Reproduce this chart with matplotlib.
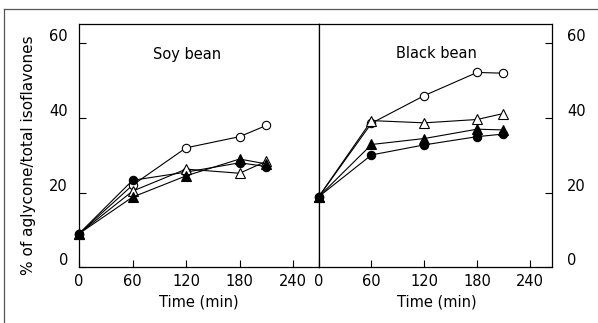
import matplotlib
matplotlib.use("Agg")
import matplotlib.pyplot as plt
import matplotlib.transforms as mtransforms
from matplotlib.lines import Line2D

time = [0, 60, 120, 180, 210]

soy_open_circle = [9.0, 22.0, 32.0, 35.0, 38.0]
soy_filled_circle = [9.0, 23.3, 25.5, 28.0, 27.0]
soy_open_triangle = [9.0, 20.4, 26.3, 25.2, 28.4]
soy_filled_triangle = [9.0, 18.8, 24.5, 29.0, 27.7]

black_open_circle = [18.9, 38.6, 46.0, 52.2, 52.0]
black_filled_circle = [18.9, 30.1, 32.8, 35.0, 35.7]
black_open_triangle = [18.9, 39.3, 38.7, 39.6, 41.2]
black_filled_triangle = [18.9, 32.9, 34.5, 37.0, 36.8]

xticks = [0, 60, 120, 180, 240]
yticks = [0, 20, 40, 60]
panel_titles = ["Soy bean", "Black bean"]
xlabel = "Time (min)"
ylabel = "% of aglycone/total isoflavones"

W, H = 598, 323
plt.rcParams['font.family'] = ['DejaVu Sans']
fig = plt.figure(figsize=(W / 100, H / 100), dpi=100)

def fx(px):
    return px / W

def fy(py):
    return 1 - py / H

bottom = fy(267.3)
top = fy(24.3)
axL = fig.add_axes([fx(79), bottom, fx(318.5) - fx(79), top - bottom])
axR = fig.add_axes([fx(318.7), bottom, fx(551.7) - fx(318.7), top - bottom])

axL.set_xlim(0, 268.5)
axR.set_xlim(0, 264.8)
for ax in (axL, axR):
    ax.set_ylim(0, 65.1)
    ax.set_xticks(xticks)
    ax.set_yticks(yticks)
    for s in ax.spines.values():
        s.set_linewidth(0.9)
        s.set_color('black')

series_style = [
    ('o', 'white'),
    ('o', 'black'),
    ('^', 'white'),
    ('^', 'black'),
]

soy = [soy_open_circle, soy_filled_circle, soy_open_triangle, soy_filled_triangle]
black = [black_open_circle, black_filled_circle, black_open_triangle, black_filled_triangle]

for ax, data in ((axL, soy), (axR, black)):
    for vals, (mk, fc) in zip(data, series_style):
        ax.plot(time, vals, color='black', lw=0.8, marker=mk, markersize=6.5 if mk == '^' else 6,
                markerfacecolor=fc, markeredgecolor='black', markeredgewidth=0.8, clip_on=False, zorder=3)

axL.tick_params(axis='both', direction='in', length=5, width=0.8, labelsize=10.5,
                top=False, right=False, left=True, bottom=True)
axL.tick_params(axis='x', pad=5)
axL.tick_params(axis='y', pad=8)
axR.tick_params(axis='both', direction='in', length=5, width=0.8, labelsize=10.5,
                top=False, left=False, right=True, bottom=True,
                labelleft=False, labelright=True)
axR.tick_params(axis='x', pad=5)
axR.tick_params(axis='y', pad=11)

offset = mtransforms.ScaledTranslation(0, 0.08, fig.dpi_scale_trans)
for ax in (axL, axR):
    for lab in ax.get_yticklabels():
        lab.set_transform(lab.get_transform() + offset)

axL.text((186.7 - 79) / 239.5, (267.3 - 54) / 243, panel_titles[0], transform=axL.transAxes,
         ha='center', va='center', fontsize=10.5)
axR.text((436.7 - 318.7) / 233, (267.3 - 54) / 243, panel_titles[1], transform=axR.transAxes,
         ha='center', va='center', fontsize=10.5)

fig.text(fx(198.7), fy(302), xlabel, ha='center', va='center', fontsize=10.5)
fig.text(fx(436.5), fy(302), xlabel, ha='center', va='center', fontsize=10.5)
fig.text(fx(29), fy(155), ylabel, ha='center', va='center', rotation=90, fontsize=11)

# scanned frame lines
fig.add_artist(Line2D([fx(4), fx(598)], [fy(9.3), fy(9.3)], color='#555555', lw=0.9))
fig.add_artist(Line2D([fx(4.3), fx(4.3)], [fy(9.3), fy(323)], color='#555555', lw=0.9))

fig.savefig("out.png", dpi=100)
